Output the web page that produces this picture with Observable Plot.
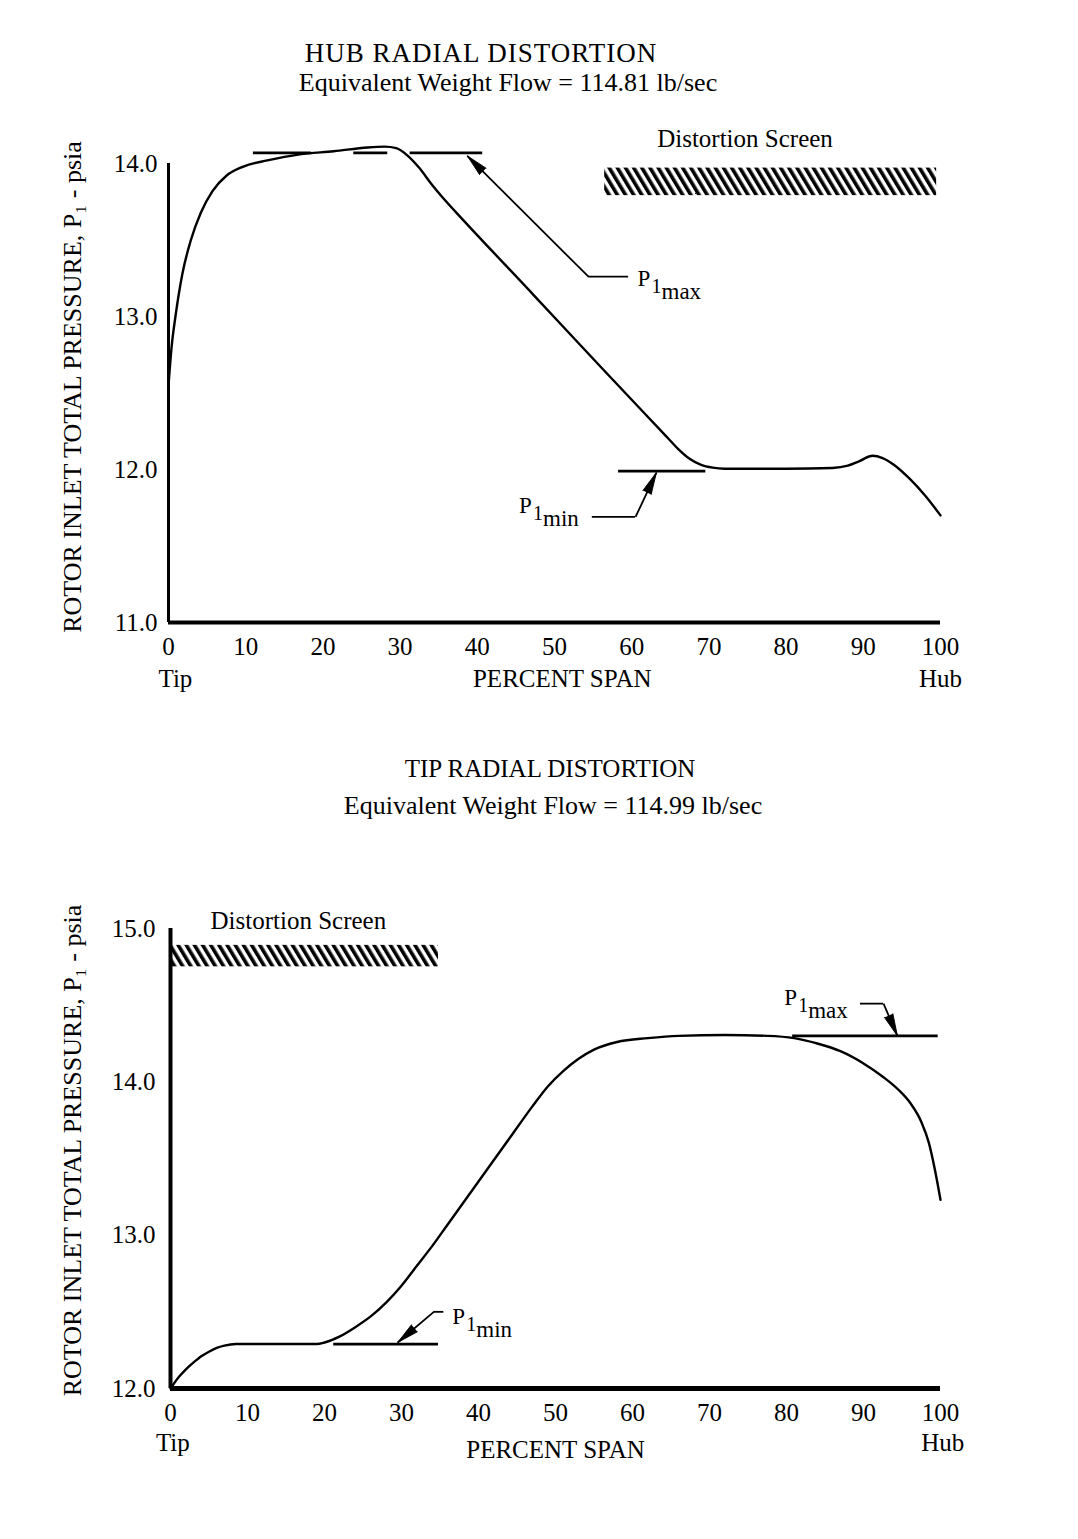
<!DOCTYPE html>
<html>
<head>
<meta charset="utf-8">
<script src="https://cdn.jsdelivr.net/npm/d3@7"></script>
<script src="https://cdn.jsdelivr.net/npm/@observablehq/plot@0.6"></script>
<style>
  html, body { margin: 0; padding: 0; background: #fff; }
  body { position: relative; width: 1078px; height: 1539px; overflow: hidden;
         font-family: "Liberation Serif", "Times New Roman", "DejaVu Serif", serif; color: #000; }
  .t { position: absolute; transform: translateX(-50%); white-space: nowrap; line-height: 1; }
  .plot { position: absolute; left: 0; }
  .plot svg { overflow: visible; }
</style>
</head>
<body>
<div class="t" style="left:481px; top:40px; font-size:27px; letter-spacing:1px;">HUB RADIAL DISTORTION</div>
<div class="t" style="left:508px; top:70px; font-size:26px;">Equivalent Weight Flow = 114.81 lb/sec</div>
<div class="t" style="left:550px; top:756px; font-size:25px;">TIP RADIAL DISTORTION</div>
<div class="t" style="left:553px; top:793px; font-size:26px;">Equivalent Weight Flow = 114.99 lb/sec</div>
<div id="top" class="plot" style="top:0px;"></div>
<div id="bottom" class="plot" style="top:720px;"></div>
<script>
// ---------------- DATA ----------------
// Hub radial distortion (top chart): percent span vs rotor inlet total pressure (psia)
const hubSpan = [0, 0.4, 0.9, 1.8, 2.9, 4.2, 5.7, 7.5, 9.7, 12.8, 17.0, 21.4, 25.8, 28.0, 29.5, 31.0, 32.5, 34.0, 36.0, 38.0, 47.3, 56.0, 64.6, 66.0, 67.5, 69.0, 70.5, 72.0, 80.0, 86.0, 88.0, 89.5, 91.2, 92.5, 94.0, 96.0, 98.0, 100];
const hubP    = [12.55, 12.80, 13.00, 13.28, 13.50, 13.68, 13.82, 13.92, 13.98, 14.02, 14.06, 14.08, 14.105, 14.11, 14.10, 14.05, 13.97, 13.87, 13.75, 13.64, 13.14, 12.67, 12.21, 12.135, 12.07, 12.03, 12.012, 12.005, 12.005, 12.01, 12.025, 12.055, 12.09, 12.075, 12.03, 11.94, 11.83, 11.70];
// Tip radial distortion (bottom chart)
const tipSpan = [0, 1, 2, 3, 4, 5, 6, 7, 8.5, 19, 20, 22, 24, 26, 28, 30, 32, 34, 36, 40, 44, 47, 49, 51, 53, 55, 58, 62, 66, 72, 77.5, 81, 84, 87, 90, 92.6, 94.5, 96.1, 97.5, 98.5, 99.3, 100];
const tipP    = [12.0, 12.07, 12.125, 12.17, 12.21, 12.24, 12.265, 12.28, 12.29, 12.29, 12.30, 12.34, 12.40, 12.47, 12.56, 12.67, 12.80, 12.93, 13.07, 13.35, 13.63, 13.84, 13.97, 14.07, 14.15, 14.21, 14.26, 14.285, 14.30, 14.305, 14.30, 14.285, 14.25, 14.20, 14.12, 14.03, 13.95, 13.86, 13.74, 13.60, 13.42, 13.23];

const spanTicks = [0, 10, 20, 30, 40, 50, 60, 70, 80, 90, 100];
const hubPressureTicks = [11, 12, 13, 14];
const tipPressureTicks = [12, 13, 14, 15];

const yLabelText = "ROTOR INLET TOTAL PRESSURE, P\u2081 - psia";
const screenLabel = "Distortion Screen";
const xLabelTexts = ["Tip", "PERCENT SPAN", "Hub"];

// Distortion screens
const hubScreen = [{x1: 56.5, x2: 99.5, y1: 13.79, y2: 13.97}];
const tipScreen = [{x1: 0, x2: 34.8, y1: 14.75, y2: 14.89}];
const hubScreenLabel = [{x: 63.3, y: 14.16}];
const tipScreenLabel = [{x: 5.2, y: 15.05}];

// P1 max / min reference lines
const hubMaxLines = [{y: 14.07, x1: 11, x2: 18.5}, {y: 14.07, x1: 24, x2: 28.4}, {y: 14.07, x1: 31.3, x2: 40.7}];
const hubMinLines = [{y: 11.99, x1: 58.3, x2: 69.6}];
const tipMaxLines = [{y: 14.30, x1: 80.8, x2: 99.7}];
const tipMinLines = [{y: 12.29, x1: 21.2, x2: 34.8}];

// Leader arrows: elbow -> tip, and horizontal leader to the label
const hubArrows  = [{x1: 54.4, y1: 13.26, x2: 38.7, y2: 14.05}, {x1: 60.5, y1: 11.69, x2: 63.2, y2: 11.98}];
const hubLeaders = [{y: 13.26, x1: 54.4, x2: 59.6}, {y: 11.69, x1: 54.9, x2: 60.5}];
const tipArrows  = [{x1: 92.6, y1: 14.51, x2: 94.4, y2: 14.30}, {x1: 34.2, y1: 12.50, x2: 29.5, y2: 12.30}];
const tipLeaders = [{y: 14.51, x1: 89.6, x2: 92.6}, {y: 12.50, x1: 34.2, x2: 35.5}];

// P1 labels (anchor at left of "P")
const hubPLabels = [{x: 60.75, y: 13.26, sub: "max"}, {x: 45.4, y: 11.78, sub: "min"}];
const tipPLabels = [{x: 79.7, y: 14.56, sub: "max"}, {x: 36.6, y: 12.48, sub: "min"}];

// ---------------- DRAWING ----------------
const FONT = '"Liberation Serif", "Times New Roman", "DejaVu Serif", serif';

function hatchDefs(id) {
  return () => {
    const defs = d3.create("svg:defs");
    const p = defs.append("pattern")
      .attr("id", id)
      .attr("patternUnits", "userSpaceOnUse")
      .attr("width", 7).attr("height", 7)
      .attr("patternTransform", "rotate(-31)");
    p.append("rect").attr("x", 0).attr("y", 0).attr("width", 3.6).attr("height", 7).attr("fill", "#000");
    return defs.node();
  };
}

function pLabels(data) {
  return [
    Plot.text(data, {x: "x", y: "y", text: () => "P", textAnchor: "start", fontSize: 23, dy: 2}),
    Plot.text(data, {x: "x", y: "y", text: () => "1", textAnchor: "start", fontSize: 20, dx: 14, dy: 10}),
    Plot.text(data, {x: "x", y: "y", text: "sub", textAnchor: "start", fontSize: 23, dx: 24, dy: 15})
  ];
}

function chart(cfg) {
  const xLab = xLabelTexts.map((t, i) => ({x: cfg.xLabelX[i], text: t}));
  const w = 1078;
  const pxX = (w - cfg.marginLeft - cfg.marginRight) / 100;
  const pxY = (cfg.height - cfg.marginTop - cfg.marginBottom) / (cfg.yDomain[1] - cfg.yDomain[0]);
  // screen direction of each leader arrow (degrees clockwise from up)
  const headAngle = d => {
    const sx = (d.x2 - d.x1) * pxX;
    const sy = -(d.y2 - d.y1) * pxY;
    return Math.atan2(sx, -sy) * 180 / Math.PI;
  };
  return Plot.plot({
    width: w,
    height: cfg.height,
    marginTop: cfg.marginTop,
    marginBottom: cfg.marginBottom,
    marginLeft: cfg.marginLeft,
    marginRight: cfg.marginRight,
    style: {fontFamily: FONT, fontSize: "24px", background: "transparent", color: "#000", overflow: "visible"},
    x: {domain: [0, 100]},
    y: {domain: cfg.yDomain},
    marks: [
      hatchDefs(cfg.hatchId),
      Plot.rect(cfg.screen, {x1: "x1", x2: "x2", y1: "y1", y2: "y2", fill: `url(#${cfg.hatchId})`}),
      Plot.text(cfg.screenLabel, {x: "x", y: "y", text: () => screenLabel, textAnchor: "start", fontSize: 25}),
      // axes
      Plot.ruleX([0], {y1: cfg.yDomain[0], y2: cfg.yDomain[1], strokeWidth: cfg.yAxisWidth, stroke: "#000"}),
      Plot.ruleY([cfg.yDomain[0]], {x1: 0, x2: 100, strokeWidth: cfg.xAxisWidth, stroke: "#000"}),
      Plot.axisY(cfg.yTicks, {tickSize: 0, tickPadding: cfg.yTickPad, tickFormat: d3.format(".1f"), fontSize: 25, label: null}),
      Plot.axisX(spanTicks, {tickSize: 0, tickPadding: 15, tickFormat: d => String(d), fontSize: 25, label: null}),
      // curve
      Plot.line(cfg.span, {x: cfg.span, y: cfg.p, curve: "monotone-x", stroke: "#000", strokeWidth: 2.4}),
      // reference lines
      Plot.ruleY(cfg.maxLines, {y: "y", x1: "x1", x2: "x2", strokeWidth: 2.8, stroke: "#000"}),
      Plot.ruleY(cfg.minLines, {y: "y", x1: "x1", x2: "x2", strokeWidth: 2.8, stroke: "#000"}),
      Plot.ruleY(cfg.leaders, {y: "y", x1: "x1", x2: "x2", strokeWidth: 1.8, stroke: "#000"}),
      Plot.link(cfg.arrows, {x1: "x1", y1: "y1", x2: "x2", y2: "y2", stroke: "#000", strokeWidth: 1.8}),
      Plot.vector(cfg.arrows, {x: "x2", y: "y2", rotate: headAngle, length: 22, r: 4.6, shape: "spike", anchor: "end", fill: "#000", stroke: "#000", strokeWidth: 0.8}),
      ...pLabels(cfg.pLabels),
      // x labels
      Plot.text(xLab, {x: "x", text: "text", frameAnchor: "bottom", dy: cfg.xLabelDy[0], fontSize: 25, filter: (d, i) => i !== 1}),
      Plot.text(xLab, {x: "x", text: "text", frameAnchor: "bottom", dy: cfg.xLabelDy[1], fontSize: 25, filter: (d, i) => i === 1}),
      // y label
      Plot.text([yLabelText], {text: d => d, frameAnchor: "left", textAnchor: "middle", rotate: -90, dx: cfg.yLabelDx, dy: cfg.yLabelDy, fontSize: 26})
    ]
  });
}

const topPlot = chart({
  height: 720, marginTop: 163, marginBottom: 98, marginLeft: 168, marginRight: 138,
  yDomain: [11, 14], yTicks: hubPressureTicks, yTickPad: 11,
  yAxisWidth: 3, xAxisWidth: 4,
  span: hubSpan, p: hubP, hatchId: "hatchTop",
  screen: hubScreen, screenLabel: hubScreenLabel,
  maxLines: hubMaxLines, minLines: hubMinLines,
  arrows: hubArrows, leaders: hubLeaders, pLabels: hubPLabels,
  xLabelX: [0.9, 51, 100], xLabelDy: [64, 64],
  yLabelDx: -96, yLabelDy: -6
});
document.getElementById("top").appendChild(topPlot);

const bottomPlot = chart({
  height: 780, marginTop: 208, marginBottom: 112, marginLeft: 170, marginRight: 138,
  yDomain: [12, 15], yTicks: tipPressureTicks, yTickPad: 15,
  yAxisWidth: 4, xAxisWidth: 5,
  span: tipSpan, p: tipP, hatchId: "hatchBottom",
  screen: tipScreen, screenLabel: tipScreenLabel,
  maxLines: tipMaxLines, minLines: tipMinLines,
  arrows: tipArrows, leaders: tipLeaders, pLabels: tipPLabels,
  xLabelX: [0.3, 50, 100.3], xLabelDy: [62, 69],
  yLabelDx: -98, yLabelDy: -8
});
document.getElementById("bottom").appendChild(bottomPlot);
</script>
</body>
</html>
